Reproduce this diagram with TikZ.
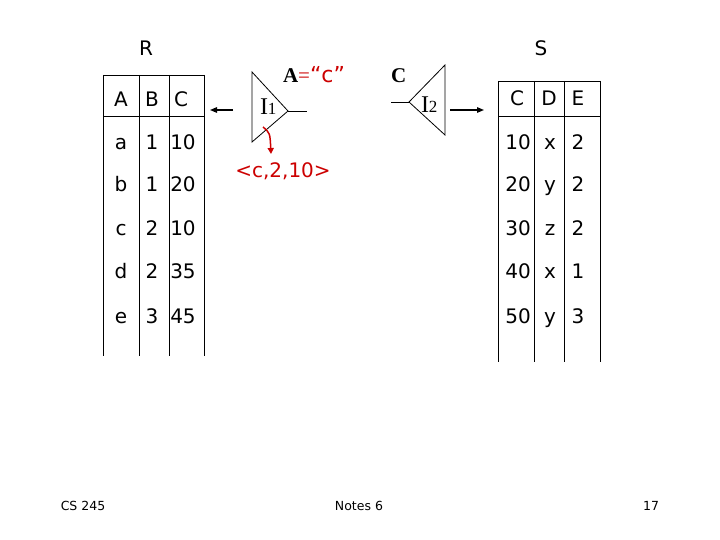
\documentclass[tikz,border=0pt]{standalone}
\usepackage{fontspec}
\setmainfont{Liberation Serif}
\newfontfamily\sansf{DejaVu Sans}
\usetikzlibrary{arrows.meta}
\definecolor{hred}{RGB}{204,0,0}
\begin{document}
\begin{tikzpicture}[x=1pt,y=-1pt,
  every node/.style={inner sep=0pt,outer sep=0pt},
  cell/.style={font=\sansf\fontsize{20}{24}\selectfont, anchor=base},
  grid/.style={line width=0.8pt, black},
  blarrow/.style={line width=1.2pt, -{Triangle[length=7pt,width=5.5pt]}},
  redarrow/.style={hred, line width=1.5pt, -{Triangle[length=6pt,width=6pt]}},
  tri/.style={line width=0.8pt, black},
  foot/.style={font=\sansf\fontsize{12.5}{14}\selectfont, anchor=base}]
\useasboundingbox (0,0) rectangle (720,540);
% titles
\node[cell] (Rlab) at (146,56) {R};
\node[cell] (Slab) at (541,56) {S};
% R table grid
\draw[grid] (103,75) -- (204,75);
\draw[grid] (103,116) -- (204,116);
\foreach \x in {103,139,169,204} \draw[grid] (\x,75) -- (\x,356);
% S table grid
\draw[grid] (498,81) -- (600,81);
\draw[grid] (498,116) -- (600,116);
\foreach \x in {498,534,564,600} \draw[grid] (\x,81) -- (\x,362);
% R table contents
\node[cell] (rA) at (121,107) {A};
\node[cell] (rB) at (152,107) {B};
\node[cell] (rC) at (181,107) {C};
\foreach \a/\b/\c/\y [count=\i] in {a/1/10/150, b/1/20/192, c/2/10/236, d/2/35/278, e/3/45/323}{
  \node[cell] (r\i a) at (121,\y) {\a};
  \node[cell] (r\i b) at (152,\y) {\b};
  \node[cell] (r\i c) at (183,\y) {\c};
}
% S table contents
\node[cell] (sC) at (517,106) {C};
\node[cell] (sD) at (549,106) {D};
\node[cell] (sE) at (578,106) {E};
\foreach \a/\b/\c/\y [count=\i] in {10/x/2/150, 20/y/2/192, 30/z/2/236, 40/x/1/278, 50/y/3/323}{
  \node[cell] (s\i a) at (518,\y) {\a};
  \node[cell] (s\i b) at (550,\y) {\b};
  \node[cell] (s\i c) at (578,\y) {\c};
}
% index I1
\coordinate (t1a) at (252,72);
\coordinate (t1b) at (252,142);
\coordinate (t1c) at (288,111);
\coordinate (t1out) at (307,111);
\draw[tri] (t1a) -- (t1c) -- (t1b) -- cycle;
\draw[tri] (t1c) -- (t1out);
\node[anchor=base west] (I1) at (260,115) {{\fontsize{24}{24}\selectfont I}{\fontsize{17}{17}\selectfont 1}};
\coordinate (a1s) at (233,110);
\coordinate (a1e) at (210,110);
\draw[blarrow] (a1s) -- (a1e);
\node[anchor=base west] (cond) at (283,83) {{\bfseries\fontsize{21}{21}\selectfont A}{\color{hred}\fontsize{21}{21}\selectfont=\sansf\fontsize{22}{22}\selectfont“c”}};
% index I2
\coordinate (t2a) at (445,65);
\coordinate (t2b) at (445,135);
\coordinate (t2c) at (409,102);
\coordinate (t2in) at (391,102);
\draw[tri] (t2a) -- (t2c) -- (t2b) -- cycle;
\draw[tri] (t2in) -- (t2c);
\node[anchor=base west] (I2) at (421,113) {{\fontsize{24}{24}\selectfont I}{\fontsize{17}{17}\selectfont 2}};
\node[anchor=base west] (Clab) at (391,83) {\bfseries\fontsize{21}{21}\selectfont C};
\coordinate (a2s) at (450,110);
\coordinate (a2e) at (484,110);
\draw[blarrow] (a2s) -- (a2e);
% result tuple
\coordinate (rs) at (263,127);
\node[anchor=base, font=\sansf\fontsize{20}{24}\selectfont, text=hred] (tuple) at (283,178) {<c,2,10>};
\draw[redarrow] (rs) .. controls (270,133) .. (271,154);
% footer
\node[foot] (f1) at (83,510) {CS 245};
\node[foot] (f2) at (359,510) {Notes 6};
\node[foot] (f3) at (651,510) {17};
\end{tikzpicture}
\end{document}
